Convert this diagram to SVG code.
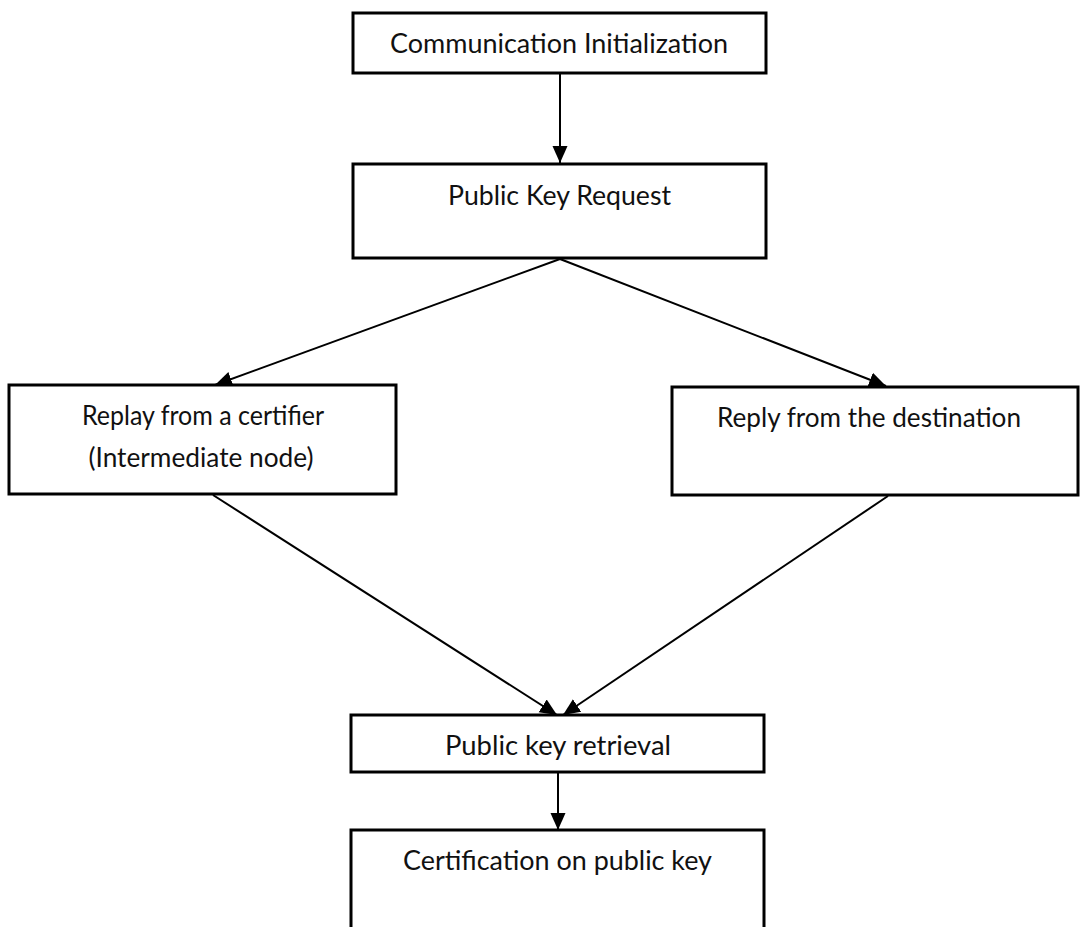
<svg xmlns="http://www.w3.org/2000/svg" width="1080" height="927" viewBox="0 0 1080 927">
  <style>
    .box { fill: #ffffff; stroke: #000000; stroke-width: 3; }
    .lbl { font-family: Lato, "Open Sans", "Liberation Sans", sans-serif; font-size: 27px; fill: #111111; text-anchor: middle; }
    .edge { fill: none; stroke: #000000; stroke-width: 2; }
  </style>
  <defs>
    <marker id="arrow" markerUnits="userSpaceOnUse" markerWidth="18" markerHeight="18" viewBox="0 0 18 18" refX="17" refY="9" orient="auto">
      <path d="M0,1.5 L17,9 L0,16.5 Z" fill="#000000"/>
    </marker>
  </defs>
  <rect width="1080" height="927" fill="#ffffff"/>

  <g id="connectors">
    <line class="edge" x1="560" y1="74" x2="560" y2="163" marker-end="url(#arrow)"/>
    <line class="edge" x1="560" y1="259" x2="215" y2="385" marker-end="url(#arrow)"/>
    <line class="edge" x1="560" y1="259" x2="886" y2="386" marker-end="url(#arrow)"/>
    <line class="edge" x1="213" y1="495" x2="557" y2="715" marker-end="url(#arrow)"/>
    <line class="edge" x1="888" y1="496" x2="563" y2="715" marker-end="url(#arrow)"/>
    <line class="edge" x1="558" y1="773" x2="558" y2="830" marker-end="url(#arrow)"/>
  </g>

  <g id="node-init">
    <rect class="box" x="353" y="13" width="413" height="60"/>
    <text class="lbl" x="559" y="53" textLength="338" lengthAdjust="spacingAndGlyphs">Communication Initialization</text>
  </g>

  <g id="node-request">
    <rect class="box" x="353" y="164" width="413" height="94"/>
    <text class="lbl" x="559.5" y="205" textLength="223" lengthAdjust="spacingAndGlyphs">Public Key Request</text>
  </g>

  <g id="node-certifier">
    <rect class="box" x="9" y="385" width="387" height="109"/>
    <text class="lbl" x="203" y="425" textLength="242" lengthAdjust="spacingAndGlyphs">Replay from a certifier</text>
    <text class="lbl" x="201" y="467" textLength="225" lengthAdjust="spacingAndGlyphs">(Intermediate node)</text>
  </g>

  <g id="node-destination">
    <rect class="box" x="672" y="387" width="406" height="108"/>
    <text class="lbl" x="869" y="427" textLength="304" lengthAdjust="spacingAndGlyphs">Reply from the destination</text>
  </g>

  <g id="node-retrieval">
    <rect class="box" x="351" y="715" width="413" height="57"/>
    <text class="lbl" x="558" y="755" textLength="226" lengthAdjust="spacingAndGlyphs">Public key retrieval</text>
  </g>

  <g id="node-certification">
    <rect class="box" x="351" y="830" width="413" height="110"/>
    <text class="lbl" x="557.5" y="870" textLength="309" lengthAdjust="spacingAndGlyphs">Certification on public key</text>
  </g>
</svg>
